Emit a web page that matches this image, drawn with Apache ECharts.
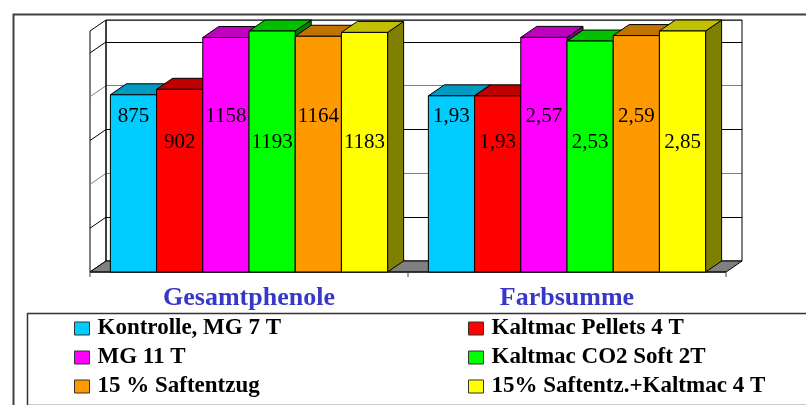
<!DOCTYPE html>
<html>
<head>
<meta charset="utf-8">
<script src="https://cdn.jsdelivr.net/npm/echarts@6/dist/echarts.min.js"></script>
<style>
  html, body { margin: 0; padding: 0; background: #fff; }
  #chart { width: 806px; height: 405px; }
</style>
</head>
<body>
<div id="chart"></div>
<script>
// Categories and treatments
const categories = ['Gesamtphenole', 'Farbsumme'];
const seriesNames = [
  'Kontrolle, MG 7 T',
  'Kaltmac Pellets 4 T',
  'MG 11 T',
  'Kaltmac CO2 Soft 2T',
  '15 % Saftentzug',
  '15% Saftentz.+Kaltmac 4 T'
];

// Measured values per category
const gesamtphenole = [875, 902, 1158, 1193, 1164, 1183];
const farbsumme = [1.93, 1.93, 2.57, 2.53, 2.59, 2.85];

// Value range of each category's own scale (bars are cut at the top of the wall)
const phenoleMax = 1190;
const farbMax = 2.64;

// Back-wall grid scale
const wallMax = 110;
const wallStep = 20;

// Face colours of the 3D bars
const frontColors = ['#00CCFF', '#FF0000', '#FF00FF', '#00FF00', '#FF9900', '#FFFF00'];
const topColors   = ['#0099C0', '#C00000', '#C000C0', '#00C000', '#C07300', '#C0C000'];
const sideColors  = ['#006680', '#800000', '#800080', '#008000', '#804D00', '#808000'];

// Oblique projection: the front plane sits left/below the back wall
const DX = -16;
const DY = 11;
const BAR_FRACTION = 0.1453;
const SERIF = '"Liberation Serif", "Times New Roman", serif';

function fmtValue(g, v) {
  return g === 0 ? String(v) : v.toFixed(2).replace('.', ',');
}

// Walls, floor and front axis of the 3D box
function renderFrame(params, api) {
  const cs = params.coordSys;
  const x0 = cs.x, x1 = cs.x + cs.width;
  const yTop = cs.y, yBot = cs.y + cs.height;
  const band = api.size([1, 0])[0];
  const children = [];
  children.push({
    type: 'polygon',
    shape: { points: [[x0, yTop], [x0, yBot], [x0 + DX, yBot + DY], [x0 + DX, yTop + DY]] },
    style: { fill: '#fff', stroke: '#000', lineWidth: 1 }
  });
  let k = 0;
  for (let v = wallStep; v < wallMax; v += wallStep) {
    k++;
    const y = api.coord([0, v])[1];
    children.push({
      type: 'line',
      shape: { x1: x0, y1: y, x2: x0 + DX, y2: y + DY },
      style: { stroke: k % 2 ? '#000' : '#808080', lineWidth: 1 }
    });
  }
  children.push({
    type: 'rect',
    shape: { x: x0, y: yTop, width: cs.width, height: cs.height },
    style: { fill: null, stroke: '#000', lineWidth: 1 }
  });
  children.push({
    type: 'polygon',
    shape: { points: [[x0, yBot], [x1, yBot], [x1 + DX, yBot + DY], [x0 + DX, yBot + DY]] },
    style: { fill: '#808080', stroke: '#000', lineWidth: 1 }
  });
  children.push({
    type: 'line',
    shape: { x1: x0 + DX, y1: yBot + DY, x2: x1 + DX, y2: yBot + DY },
    style: { stroke: '#222', lineWidth: 1.5 }
  });
  for (let i = 0; i <= categories.length; i++) {
    const tx = x0 + DX + i * band;
    children.push({
      type: 'line',
      shape: { x1: tx, y1: yBot + DY, x2: tx, y2: yBot + DY + 5 },
      style: { stroke: '#444', lineWidth: 1 }
    });
  }
  return { type: 'group', children };
}

function makeBar(s, g) {
  const values = g === 0 ? gesamtphenole : farbsumme;
  const axisMax = g === 0 ? phenoleMax : farbMax;
  return {
    type: 'custom',
    name: seriesNames[s],
    xAxisIndex: 0,
    yAxisIndex: g + 1,
    z: 2,
    silent: true,
    itemStyle: { color: frontColors[s] },
    data: [[g, values[s]]],
    renderItem(params, api) {
      const cs = params.coordSys;
      const cat = api.value(0);
      const val = api.value(1);
      const top = api.coord([cat, Math.min(val, axisMax)]);
      const base = api.coord([cat, 0]);
      const bw = api.size([1, 0])[0] * BAR_FRACTION;
      const bl = top[0] - 3 * bw + s * bw, br = bl + bw;
      const bTop = top[1], bBase = base[1];
      const fl = bl + DX, fr = br + DX, fTop = bTop + DY, fBase = bBase + DY;
      const edge = { stroke: '#000', lineWidth: 1 };
      return {
        type: 'group',
        children: [
          {
            type: 'polygon',
            shape: { points: [[fr, fTop], [br, bTop], [br, bBase], [fr, fBase]] },
            style: Object.assign({ fill: sideColors[s] }, edge)
          },
          {
            type: 'polygon',
            shape: { points: [[fl, fTop], [fr, fTop], [br, bTop], [bl, bTop]] },
            style: Object.assign({ fill: topColors[s] }, edge)
          },
          {
            type: 'rect',
            shape: { x: fl, y: fTop, width: bw, height: fBase - fTop },
            style: Object.assign({ fill: frontColors[s] }, edge)
          },
          {
            type: 'text',
            style: {
              text: fmtValue(g, val),
              x: (fl + fr) / 2,
              y: cs.y + (s % 2 === 0 ? 96 : 122),
              align: 'center',
              verticalAlign: 'middle',
              font: '21px ' + SERIF,
              fill: '#000'
            }
          }
        ]
      };
    }
  };
}

const barSeries = [];
for (let g = 0; g < categories.length; g++) {
  for (let s = 0; s < seriesNames.length; s++) barSeries.push(makeBar(s, g));
}

const legendBase = {
  orient: 'vertical',
  top: 317,
  itemWidth: 15,
  itemHeight: 13,
  itemGap: 6,
  padding: 0,
  icon: 'rect',
  selectedMode: false,
  itemStyle: { borderColor: '#333', borderWidth: 1 },
  textStyle: {
    fontFamily: SERIF, fontWeight: 'bold', fontSize: 23, color: '#000',
    lineHeight: 23, padding: [0, 0, 0, 3]
  }
};

const chart = echarts.init(document.getElementById('chart'));
chart.setOption({
  animation: false,
  backgroundColor: '#fff',
  grid: { left: 106, top: 20, width: 636, height: 241, containLabel: false },
  xAxis: {
    type: 'category',
    data: categories,
    axisLine: { show: false },
    axisTick: { show: false },
    axisLabel: {
      margin: 24,
      padding: [0, 32, 0, 0],
      fontFamily: SERIF,
      fontWeight: 'bold',
      fontSize: 26,
      color: '#3838C8'
    }
  },
  yAxis: [
    {
      type: 'value', min: 0, max: wallMax, interval: wallStep,
      axisLine: { show: false }, axisTick: { show: false }, axisLabel: { show: false },
      splitLine: { show: true, lineStyle: { color: ['#808080', '#000'], width: 1 } }
    },
    { type: 'value', min: 0, max: phenoleMax, show: false, splitLine: { show: false } },
    { type: 'value', min: 0, max: farbMax, show: false, splitLine: { show: false } }
  ],
  legend: [
    Object.assign({}, legendBase, { left: 74, data: [seriesNames[0], seriesNames[2], seriesNames[4]] }),
    Object.assign({}, legendBase, { left: 468, data: [seriesNames[1], seriesNames[3], seriesNames[5]] })
  ],
  graphic: [
    {
      type: 'rect', left: 11, top: 12, silent: true,
      shape: { width: 900, height: 500 },
      style: { fill: null, stroke: '#404040', lineWidth: 2 }
    },
    {
      type: 'rect', left: 25, top: 311, silent: true,
      shape: { width: 900, height: 92 },
      style: { fill: null, stroke: '#333', lineWidth: 1.5 }
    }
  ],
  series: [
    {
      type: 'custom',
      name: 'frame',
      xAxisIndex: 0,
      yAxisIndex: 0,
      z: 1,
      silent: true,
      data: [[0, 0]],
      renderItem: renderFrame
    }
  ].concat(barSeries)
});
</script>
</body>
</html>
